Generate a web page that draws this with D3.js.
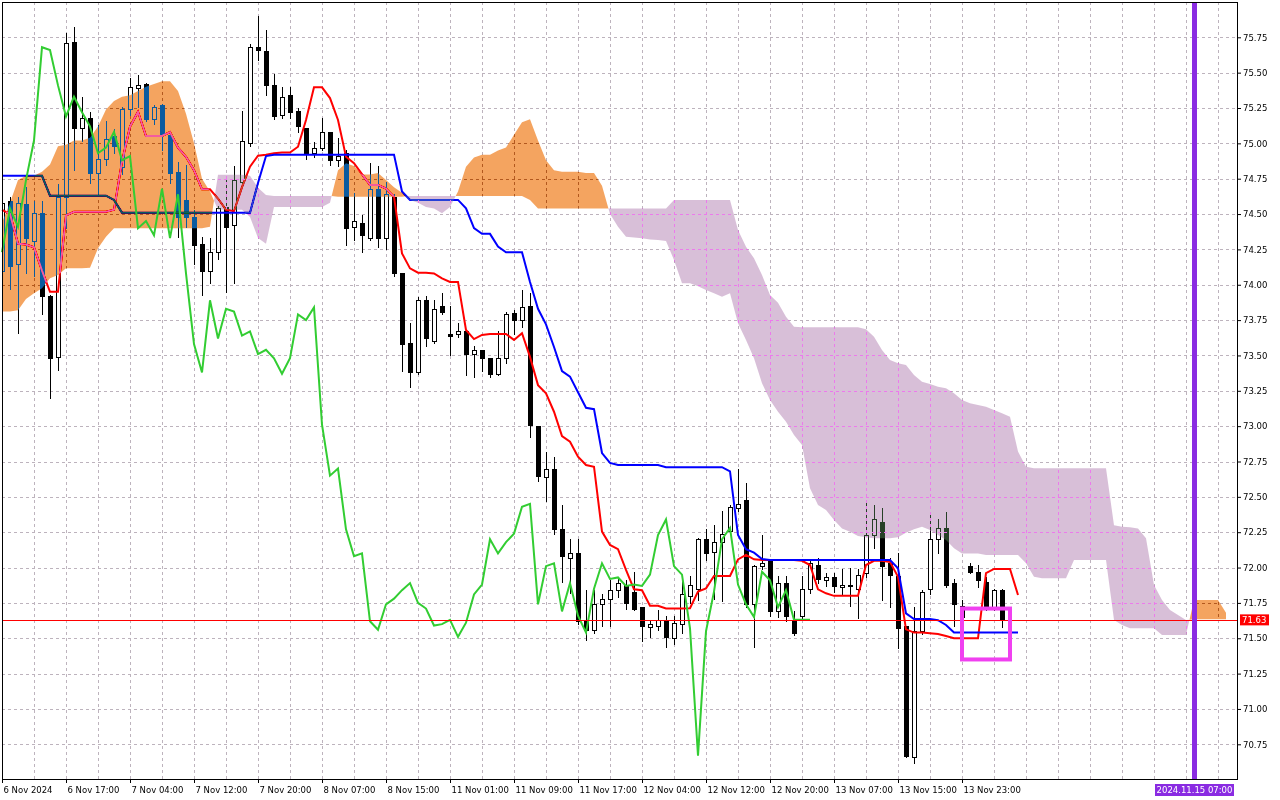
<!DOCTYPE html>
<html>
<head>
<meta charset="utf-8">
<script src="https://cdn.jsdelivr.net/npm/d3@7"></script>
<style>
  body { margin: 0; background: #fff; }
  svg { display: block; }
</style>
</head>
<body>
<svg id="chart" width="1280" height="800"></svg>
<script>
// H1 bars, index 0 = leftmost bar on the chart
const open = [74.10,74.59,74.15,74.57,74.31,74.51,73.92,73.49,74.62,75.72,
75.11,75.18,74.79,74.89,75.05,74.83,75.24,75.39,75.42,75.17,
75.27,75.06,74.80,74.60,74.48,74.29,74.10,74.23,74.55,74.42,
74.73,75.00,75.68,75.65,75.41,75.20,75.34,75.23,75.11,74.93,
74.97,75.08,74.88,74.93,74.41,74.44,74.33,74.68,74.33,74.62,
74.08,73.59,73.38,73.89,73.60,73.85,73.65,73.65,73.67,73.51,
73.54,73.48,73.37,73.48,73.80,73.75,73.85,73.00,72.64,72.70,
72.27,72.07,72.10,71.63,71.56,71.74,71.78,71.84,71.88,71.83,
71.72,71.58,71.59,71.63,71.50,71.60,71.80,71.85,72.20,72.11,
72.18,72.26,72.42,72.48,71.74,72.01,72.05,71.69,71.89,71.63,
71.66,71.85,72.02,71.91,71.93,71.86,71.88,71.85,71.96,72.23,
72.32,72.03,71.94,71.59,70.66,71.55,71.85,72.20,72.28,71.89,
71.73,72.01,71.97,71.90,71.72,71.84,71.63,71.63]
const high = [74.62,74.62,74.62,74.69,74.59,74.59,73.93,74.71,75.78,75.82,
75.33,75.22,75.13,75.16,75.10,75.26,75.46,75.48,75.43,75.27,
75.28,75.06,74.87,74.85,74.53,74.34,74.33,74.56,74.77,74.84,
75.23,75.70,75.90,75.80,75.49,75.40,75.40,75.25,75.11,75.01,
75.18,75.08,75.04,74.95,74.65,74.49,74.86,74.84,74.73,74.64,
74.08,73.73,73.91,73.92,73.89,73.94,73.85,73.73,73.67,73.57,
73.54,73.48,73.67,73.81,73.82,73.96,73.94,73.00,72.82,72.78,
72.44,72.20,72.20,71.84,71.84,71.81,71.91,71.92,71.91,71.97,
71.72,71.63,71.70,71.66,71.66,71.94,71.94,72.21,72.27,72.30,
72.40,72.44,72.70,72.60,72.02,72.23,72.06,71.94,71.94,71.69,
71.94,72.05,72.07,71.96,71.96,71.99,72.00,71.99,72.47,72.44,
72.42,72.07,72.10,71.59,71.72,71.84,72.38,72.34,72.39,71.92,
71.77,72.03,72.02,71.93,71.85,71.85,71.63,71.63]
const low = [74.05,73.97,73.66,74.08,74.06,73.79,73.20,73.40,74.40,74.81,
75.02,74.72,74.64,74.85,74.93,74.78,75.20,75.26,75.16,75.14,
74.95,74.72,74.34,74.41,74.15,73.93,74.01,74.18,73.95,74.01,
74.70,74.98,75.59,75.34,75.17,75.18,75.18,75.08,74.89,74.90,
74.95,74.85,74.84,74.28,74.32,74.23,74.32,74.27,74.25,74.06,
73.39,73.28,73.37,73.57,73.59,73.79,73.50,73.63,73.36,73.35,
73.39,73.35,73.36,73.45,73.65,73.70,72.92,72.61,72.47,72.24,
71.90,71.82,71.60,71.49,71.54,71.59,71.59,71.79,71.71,71.70,
71.48,71.51,71.56,71.44,71.46,71.54,71.75,71.77,72.05,71.78,
71.76,72.25,72.40,71.72,71.44,71.99,71.66,71.65,71.62,71.52,
71.64,71.82,71.89,71.87,71.83,71.81,71.73,71.64,71.93,72.14,
71.77,71.72,71.43,70.66,70.62,71.53,71.81,72.10,71.86,71.59,
71.62,71.96,71.86,71.70,71.70,71.58,71.63,71.63]
const close = [74.58,74.13,74.58,74.33,74.51,73.92,73.48,74.62,75.71,75.11,
75.18,74.79,74.89,75.03,74.98,75.24,75.40,75.41,75.17,75.26,
75.06,74.79,74.48,74.48,74.28,74.10,74.23,74.54,74.41,74.74,
75.02,75.68,75.66,75.41,75.19,75.33,75.22,75.12,74.93,74.97,
75.08,74.88,74.91,74.40,74.45,74.35,74.68,74.33,74.64,74.08,
73.58,73.38,73.89,73.62,73.83,73.81,73.64,73.67,73.51,73.54,
73.48,73.37,73.48,73.79,73.75,73.84,73.01,72.65,72.70,72.27,
72.08,72.10,71.62,71.56,71.74,71.78,71.84,71.89,71.75,71.71,
71.59,71.60,71.63,71.51,71.61,71.81,71.88,72.20,72.10,72.18,
72.24,72.43,72.45,71.74,72.01,72.03,71.69,71.89,71.66,71.54,
71.85,72.03,71.92,71.93,71.87,71.88,71.87,71.95,72.23,72.34,
72.01,71.95,71.57,70.67,71.55,71.83,72.20,72.28,71.88,71.74,
71.65,71.97,71.91,71.72,71.84,71.63,71.63,71.63]

// Ichimoku lines
const tenkan = [74.53,74.50,74.29,74.285,74.265,74.10,73.95,73.95,74.49,74.516,
74.516,74.516,74.516,74.516,74.53,74.87,75.118,75.224,75.052,75.052,
75.052,75.08,74.97,74.905,74.81,74.675,74.675,74.61,74.53,74.52,
74.69,74.835,74.913,74.92,74.93,74.935,74.935,74.976,75.165,75.396,
75.396,75.32,75.165,74.905,74.86,74.783,74.706,74.706,74.68,74.623,
74.222,74.116,74.085,74.085,74.08,74.045,74.02,74.02,73.68,73.616,
73.645,73.652,73.652,73.652,73.61,73.657,73.49,73.29,73.232,73.102,
72.93,72.89,72.784,72.725,72.713,72.254,72.16,72.13,71.983,71.846,
71.84,71.73,71.73,71.71,71.71,71.71,71.712,71.83,71.853,71.94,
71.94,71.94,72.058,72.089,72.058,72.053,72.053,72.053,72.053,72.053,
72.048,72.018,71.846,71.818,71.80,71.80,71.80,71.80,72.018,72.048,
72.048,72.04,71.935,71.563,71.54,71.54,71.535,71.53,71.516,71.50,
71.50,71.50,71.50,71.96,71.99,71.99,71.99,71.806]
const kijun = [74.77,74.77,74.77,74.77,74.77,74.77,74.63,74.63,74.63,74.63,
74.63,74.63,74.63,74.63,74.60,74.51,74.51,74.51,74.51,74.51,
74.51,74.51,74.51,74.51,74.51,74.51,74.51,74.51,74.51,74.51,
74.51,74.51,74.72,74.91,74.92,74.92,74.92,74.92,74.92,74.92,
74.92,74.92,74.92,74.92,74.92,74.92,74.92,74.92,74.92,74.92,
74.66,74.60,74.60,74.60,74.60,74.60,74.60,74.60,74.54,74.40,
74.36,74.36,74.27,74.23,74.23,74.23,74.02,73.83,73.72,73.56,
73.39,73.35,73.24,73.13,73.12,72.81,72.74,72.725,72.725,72.725,
72.725,72.725,72.725,72.71,72.71,72.71,72.71,72.71,72.71,72.71,
72.71,72.68,72.23,72.13,72.105,72.06,72.053,72.053,72.053,72.053,
72.053,72.053,72.053,72.053,72.053,72.053,72.053,72.053,72.053,72.053,
72.053,72.053,71.995,71.676,71.636,71.636,71.636,71.628,71.594,71.54,
71.54,71.54,71.54,71.54,71.54,71.54,71.54,71.54]
// Senkou spans run 26 bars past the last candle
const spanA = [74.44,74.58,74.74,74.77,74.77,74.80,74.85,74.98,74.99,75.02,
75.02,75.04,75.12,75.24,75.30,75.33,75.34,75.37,75.40,75.42,
75.44,75.44,75.37,75.21,75.00,74.75,74.66,74.53,74.53,74.53,
74.53,74.48,74.33,74.29,74.55,74.55,74.55,74.55,74.55,74.55,
74.55,74.58,74.81,74.86,74.84,74.78,74.78,74.79,74.74,74.69,
74.65,74.60,74.58,74.55,74.54,74.505,74.55,74.66,74.835,74.90,
74.92,74.92,74.95,74.97,75.06,75.15,75.17,75.02,74.88,74.81,
74.80,74.80,74.80,74.79,74.79,74.70,74.50,74.41,74.34,74.335,
74.328,74.32,74.316,74.309,74.175,74.01,74.01,73.99,73.963,73.94,
73.916,73.94,73.727,73.61,73.48,73.303,73.185,73.102,73.031,72.937,
72.867,72.56,72.442,72.407,72.336,72.277,72.254,72.223,72.214,72.207,
72.207,72.207,72.214,72.246,72.27,72.289,72.266,72.23,72.195,72.136,
72.10,72.10,72.10,72.089,72.089,72.089,72.089,72.089,72.03,71.935,
71.924,71.924,71.924,71.924,72.053,72.053,72.053,72.053,72.053,71.629,
71.594,71.57,71.57,71.57,71.57,71.523,71.523,71.523,71.523,71.77,
71.77,71.77,71.77,71.68]
const spanB = [73.81,73.81,73.82,73.90,73.94,73.975,74.046,74.069,74.116,74.116,
74.116,74.12,74.258,74.34,74.40,74.40,74.40,74.40,74.40,74.40,
74.40,74.40,74.40,74.40,74.40,74.40,74.41,74.778,74.778,74.778,
74.778,74.77,74.686,74.634,74.628,74.628,74.628,74.628,74.628,74.628,
74.628,74.628,74.623,74.623,74.623,74.623,74.623,74.623,74.623,74.623,
74.623,74.628,74.628,74.628,74.628,74.628,74.628,74.628,74.628,74.628,
74.628,74.628,74.628,74.628,74.628,74.628,74.60,74.54,74.54,74.54,
74.54,74.54,74.54,74.54,74.54,74.54,74.539,74.539,74.539,74.539,
74.539,74.539,74.539,74.539,74.599,74.599,74.599,74.599,74.599,74.599,
74.599,74.599,74.387,74.269,74.187,74.069,73.928,73.873,73.774,73.703,
73.70,73.70,73.70,73.70,73.70,73.70,73.70,73.70,73.685,73.633,
73.539,73.468,73.444,73.432,73.362,73.314,73.298,73.279,73.268,73.232,
73.185,73.162,73.15,73.138,73.114,73.091,73.067,72.82,72.713,72.702,
72.702,72.702,72.702,72.702,72.702,72.702,72.702,72.702,72.702,72.30,
72.289,72.285,72.277,72.207,71.877,71.77,71.70,71.664,71.629,71.634,
71.634,71.634,71.634,71.634]

const priceTicks = [70.75,71.00,71.25,71.50,71.75,72.00,72.25,72.50,72.75,73.00,
73.25,73.50,73.75,74.00,74.25,74.50,74.75,75.00,75.25,75.50,75.75]
const timeLabels = ["6 Nov 2024","6 Nov 17:00","7 Nov 04:00","7 Nov 12:00","7 Nov 20:00",
"8 Nov 07:00","8 Nov 15:00","11 Nov 01:00","11 Nov 09:00","11 Nov 17:00","12 Nov 04:00",
"12 Nov 12:00","12 Nov 20:00","13 Nov 07:00","13 Nov 15:00","13 Nov 23:00"]
const bidPrice = 71.63
const markerBar = 149, markerText = "2024.11.15 07:00"
const boxBars = [120, 126], boxPrices = [71.71, 71.35]

const FONT = '"DejaVu Sans", Verdana, sans-serif'
const GRID_COLOR = "#bdb3bd"
const plotL = 2, plotT = 2, plotR = 1237, plotB = 779

const x = d3.scaleLinear().domain([0, 154]).range([2, 2 + 8 * 154])
const y = d3.scaleLinear().domain([70.75, 75.75]).range([744.3, 37.3])
const py = v => Math.round(y(v)) + 0.5

const svg = d3.select("#chart")
svg.append("rect").attr("width", 1280).attr("height", 800).attr("fill", "#fff")
svg.append("clipPath").attr("id", "plot").append("rect")
    .attr("x", plotL).attr("y", plotT).attr("width", plotR - plotL).attr("height", plotB - plotT)

const gridCols = d3.range(4, 154, 4).filter(i => x(i) < plotR)
function drawGrid(g) {
    g.attr("stroke-dasharray", "3,3")
    g.selectAll(".vg").data(gridCols).join("line")
        .attr("x1", d => x(d) + 0.5).attr("x2", d => x(d) + 0.5)
        .attr("y1", plotT).attr("y2", plotB)
    g.selectAll(".hg").data(priceTicks).join("line")
        .attr("x1", plotL).attr("x2", plotR)
        .attr("y1", d => py(d)).attr("y2", d => py(d))
}
svg.append("g").attr("stroke", GRID_COLOR).call(drawGrid)

// candles
let bars = d3.range(open.length)
let cg = svg.append("g").attr("clip-path", "url(#plot)").attr("stroke", "#000").attr("stroke-width", 1)
cg.selectAll(".wick").data(bars).join("line")
    .attr("x1", i => x(i) + 0.5).attr("x2", i => x(i) + 0.5)
    .attr("y1", i => Math.round(y(high[i]))).attr("y2", i => Math.round(y(low[i])) + 1)
cg.selectAll(".body").data(bars).join("rect")
    .attr("x", i => x(i) - 1.5)
    .attr("width", 4)
    .attr("y", i => py(Math.max(open[i], close[i])))
    .attr("height", i => py(Math.min(open[i], close[i])) - py(Math.max(open[i], close[i])))
    .attr("fill", i => close[i] >= open[i] ? "#fff" : "#000")

// tenkan / kijun
const line = d3.line().x((d, i) => x(i)).y(d => y(d))
svg.append("path").attr("d", line(tenkan)).attr("fill", "none").attr("stroke", "#ff0000").attr("stroke-width", 2)
svg.append("path").attr("d", line(kijun)).attr("fill", "none").attr("stroke", "#0000ff").attr("stroke-width", 2)

// kumo, split where the spans cross
let pts = []
for (let i = 0; i < spanA.length; i++) {
    pts.push({ i: i, a: spanA[i], b: spanB[i] })
    if (i < spanA.length - 1) {
        let d0 = spanA[i] - spanB[i], d1 = spanA[i + 1] - spanB[i + 1]
        if (d0 * d1 < 0) {
            let t = d0 / (d0 - d1)
            let v = spanA[i] + t * (spanA[i + 1] - spanA[i])
            pts.push({ i: i + t, a: v, b: v })
        }
    }
}
// fills are the inverse colours blended with "difference", so the cloud reads
// SandyBrown / Thistle on white and inverts the bars underneath like the terminal does
const upArea = d3.area().defined(d => d.a >= d.b).x(d => x(d.i)).y0(d => y(d.b)).y1(d => y(d.a))
const dnArea = d3.area().defined(d => d.b >= d.a).x(d => x(d.i)).y0(d => y(d.a)).y1(d => y(d.b))
svg.append("path").attr("d", upArea(pts)).attr("fill", "#0b5b9f").style("mix-blend-mode", "difference")
svg.append("path").attr("d", dnArea(pts)).attr("fill", "#274027").style("mix-blend-mode", "difference")

// grid shows through the thistle part in magenta
svg.append("clipPath").attr("id", "kumoDn").append("path").attr("d", dnArea(pts))
svg.append("g").attr("clip-path", "url(#kumoDn)").append("g").attr("stroke", "#ec7aec").call(drawGrid)

// chikou: close plotted 26 bars back
svg.append("path").attr("d", line(close.slice(26))).attr("fill", "none").attr("stroke", "#32cd32").attr("stroke-width", 2)

// bid line
svg.append("line").attr("x1", plotL).attr("x2", plotR).attr("y1", py(bidPrice)).attr("y2", py(bidPrice))
    .attr("stroke", "#ff0000").attr("stroke-width", 1)

// vertical marker and box
svg.append("line").attr("x1", x(markerBar) + 0.5).attr("x2", x(markerBar) + 0.5).attr("y1", plotT).attr("y2", plotB)
    .attr("stroke", "#8a2be2").attr("stroke-width", 5)
svg.append("rect")
    .attr("x", x(boxBars[0])).attr("y", y(boxPrices[0]))
    .attr("width", x(boxBars[1]) - x(boxBars[0])).attr("height", y(boxPrices[1]) - y(boxPrices[0]))
    .attr("fill", "none").attr("stroke", "#f040f0").attr("stroke-width", 4)

// frame
svg.append("rect").attr("x", plotL + 0.5).attr("y", plotT + 0.5).attr("width", plotR - plotL).attr("height", plotB - plotT)
    .attr("fill", "none").attr("stroke", "#000")

// price axis
let ya = svg.append("g").attr("transform", `translate(${plotR},0)`)
    .call(d3.axisRight(y).tickValues(priceTicks).tickFormat(d3.format(".2f")).tickSize(4).tickPadding(2))
ya.select(".domain").remove()
ya.attr("font-family", FONT).attr("font-size", 8.5)

// time axis
let xa = svg.append("g").attr("transform", `translate(0,${plotB})`)
    .call(d3.axisBottom(x).tickValues(timeLabels.map((d, k) => k * 8)).tickFormat((d, k) => timeLabels[k]).tickSize(4).tickPadding(4))
xa.select(".domain").remove()
xa.attr("font-family", FONT).attr("font-size", 8.5)
xa.selectAll("text").attr("text-anchor", "start").attr("x", 1)

// bid label
svg.append("rect").attr("x", plotR + 3).attr("y", y(bidPrice) - 5.5).attr("width", 29).attr("height", 11).attr("fill", "#ff0000")
svg.append("text").attr("x", plotR + 5).attr("y", y(bidPrice)).attr("dy", "0.34em")
    .attr("font-family", FONT).attr("font-size", 8.5).attr("fill", "#fff").text(d3.format(".2f")(bidPrice))

// marker time label
svg.append("rect").attr("x", x(markerBar) - 39).attr("y", 784).attr("width", 79).attr("height", 12).attr("fill", "#8a2be2")
svg.append("text").attr("x", x(markerBar) + 0.5).attr("y", 790).attr("dy", "0.34em").attr("text-anchor", "middle")
    .attr("font-family", FONT).attr("font-size", 8.5).attr("fill", "#fff").text(markerText)
</script>
</body>
</html>
